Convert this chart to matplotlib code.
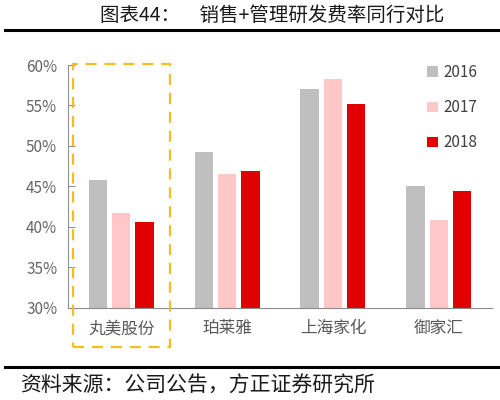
import matplotlib
matplotlib.use('Agg')
import matplotlib.pyplot as plt
from matplotlib.patches import Rectangle
from matplotlib.lines import Line2D
import numpy as np

plt.rcParams['font.family'] = ['Noto Sans CJK SC', 'DejaVu Sans']

# --- Dati ---
aziende = ['丸美股份', '珀莱雅', '上海家化', '御家汇']
anni = ['2016', '2017', '2018']
val_2016 = [0.458, 0.493, 0.570, 0.450]
val_2017 = [0.417, 0.465, 0.583, 0.409]
val_2018 = [0.406, 0.469, 0.552, 0.444]
colori = ['#BFBFBF', '#FFC7C7', '#E00000']
# ------------

fig = plt.figure(figsize=(5, 4), dpi=100)
ax = fig.add_axes([0.1366, 0.2308, 0.8468, 0.6067])

x = np.arange(len(aziende))
larghezza = 0.173
passo = 0.22
for i, serie in enumerate([val_2016, val_2017, val_2018]):
    ax.bar(x + (i - 1) * passo, serie, width=larghezza, color=colori[i], label=anni[i], zorder=2)

ax.set_xlim(-0.5, 3.5)
ax.set_ylim(0.30, 0.60)
ax.set_yticks(np.arange(0.30, 0.601, 0.05))
ax.set_yticklabels([f'{int(round(v * 100))}%' for v in np.arange(0.30, 0.601, 0.05)])
ax.set_xticks(x)
ax.set_xticklabels(aziende, fontsize=12, color='#595959')

for lato in ['top', 'right']:
    ax.spines[lato].set_visible(False)
ax.spines['left'].set_color('#8C939C')
ax.spines['bottom'].set_color('#8C8C8C')
ax.tick_params(axis='y', direction='in', length=5, color='#8C939C', labelsize=11,
               labelcolor='#666666', pad=8)
ax.tick_params(axis='x', length=0, pad=9)

# riquadro tratteggiato attorno a 丸美股份
box = Rectangle((-0.46, 0.251), 0.92, 0.35, fill=False, edgecolor='#F5BE1E',
                linewidth=1.6, linestyle=(0, (5, 3.5)), clip_on=False, zorder=3)
ax.add_patch(box)

leg = ax.legend(loc='upper left', bbox_to_anchor=(0.815, 1.06), frameon=False,
                fontsize=11, handlelength=0.7, handleheight=0.7, handletextpad=0.4,
                labelspacing=1.18, labelcolor='#404040')

# titolo e linee
fig.text(0.545, 0.962, '图表44：　销售+管理研发费率同行对比', ha='center', va='center',
         fontsize=14, color='#1a1a1a')
fig.add_artist(Line2D([0.01, 1.0], [0.926, 0.926], color='black', linewidth=2.2))
fig.add_artist(Line2D([0.01, 1.0], [0.083, 0.083], color='black', linewidth=2.2))
fig.text(0.04, 0.037, '资料来源：公司公告，方正证券研究所', ha='left', va='center',
         fontsize=15, color='#1a1a1a', style='italic')

fig.savefig('out.png', dpi=100)
